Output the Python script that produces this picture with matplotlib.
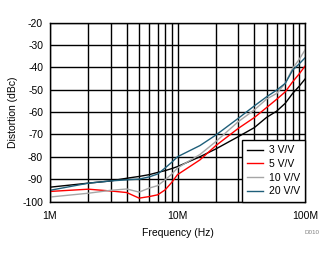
import matplotlib
matplotlib.use("Agg")
import matplotlib.pyplot as plt
from matplotlib.ticker import FixedLocator, NullFormatter

plt.rcParams['font.family'] = ['Liberation Sans', 'DejaVu Sans']

freq_mhz = [1, 2, 3, 4, 5, 6, 7, 8, 9, 10, 15, 20, 30, 40, 50, 60, 70, 80, 90, 100]
g3 = [-93.6, -91.8, -90.8, -89.6, -88.8, -88.0, -87.0, -86.2, -85.3, -84.4, -80.0, -76.5, -71.0, -67.0, -62.4, -59.6, -56.1, -51.7, -48.5, -45.3]
g5 = [-95.5, -94.5, -95.3, -96.0, -98.5, -97.8, -97.0, -94.8, -91.5, -88.0, -81.4, -75.0, -67.3, -62.5, -58.0, -54.3, -51.0, -46.5, -43.0, -39.5]
g10 = [-98.0, -96.3, -95.0, -94.4, -95.8, -94.0, -92.9, -90.3, -87.8, -85.0, -79.0, -73.2, -64.3, -59.1, -54.2, -51.7, -47.2, -40.5, -36.5, -32.3]
g20 = [-95.0, -91.8, -90.8, -90.3, -90.0, -89.0, -87.7, -85.0, -82.5, -80.0, -75.0, -70.3, -62.8, -57.3, -53.2, -50.2, -47.2, -41.3, -38.5, -35.8]
labels = ['3 V/V', '5 V/V', '10 V/V', '20 V/V']
colors = ['#000000', '#ff0000', '#a6a6a6', '#1f5f7a']
xticks = [1e6, 1e7, 1e8]
xticklabels = ['1M', '10M', '100M']
yticks = list(range(-100, -19, 10))

FS = 7.5
fig = plt.figure(figsize=(3.34, 2.54), dpi=100)
ax = fig.add_axes([50/334, 1-201.5/254, 255/334, 179/254])

f = [v * 1e6 for v in freq_mhz]
for y, lab, c in zip([g3, g5, g10, g20], labels, colors):
    ax.plot(f, y, color=c, lw=1.0, label=lab)

ax.set_xscale('log')
ax.set_xlim(1e6, 1e8)
ax.set_ylim(-100, -20)
ax.set_xticks(xticks)
ax.set_xticklabels(xticklabels)
minors = [m * 10**e for e in (6, 7) for m in range(2, 10)]
ax.xaxis.set_minor_locator(FixedLocator(minors))
ax.xaxis.set_minor_formatter(NullFormatter())
ax.set_yticks(yticks)
ax.set_yticklabels([str(v) for v in yticks])
ax.grid(True, which='both', color='black', lw=1.0)
ax.set_axisbelow(True)
ax.tick_params(which='both', length=0, labelsize=FS)
ax.tick_params(axis='y', pad=5)
ax.tick_params(axis='x', pad=7)
for s in ax.spines.values():
    s.set_linewidth(1.0)
ax.set_xlabel('Frequency (Hz)', fontsize=FS, labelpad=5)
ax.set_ylabel('Distortion (dBc)', fontsize=FS, labelpad=3)

leg = ax.legend(loc='lower right', fontsize=FS, frameon=True, fancybox=False,
                borderaxespad=0, handlelength=1.6, labelspacing=0.35,
                borderpad=0.5, handletextpad=0.5)
leg.get_frame().set_edgecolor('black')
leg.get_frame().set_linewidth(1.0)
leg.get_frame().set_alpha(1.0)

fig.text(312/334, 1-233/254, 'D010', fontsize=4.5, color='#808080', ha='center', va='center')

fig.savefig('out.png', dpi=100)
